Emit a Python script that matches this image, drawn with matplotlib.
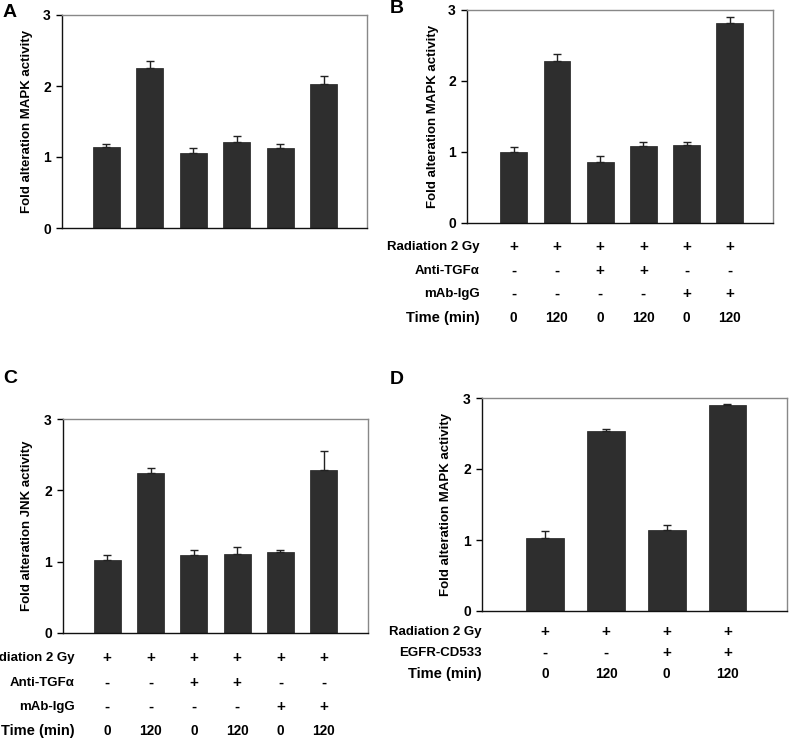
import matplotlib
matplotlib.use("Agg")
import matplotlib.pyplot as plt
from matplotlib.transforms import blended_transform_factory
import numpy as np

plt.rcParams['font.family'] = ['Liberation Sans', 'DejaVu Sans']
plt.rcParams['font.weight'] = 'bold'

# ---- data ----
a_values = [1.14, 2.26, 1.06, 1.21, 1.12, 2.03]
a_errors = [0.04, 0.09, 0.06, 0.09, 0.06, 0.11]
b_values = [1.00, 2.28, 0.86, 1.08, 1.09, 2.81]
b_errors = [0.07, 0.09, 0.08, 0.05, 0.05, 0.08]
c_values = [1.02, 2.24, 1.09, 1.11, 1.13, 2.29]
c_errors = [0.07, 0.08, 0.07, 0.09, 0.04, 0.26]
d_values = [1.03, 2.54, 1.14, 2.90]
d_errors = [0.09, 0.02, 0.07, 0.02]

radiation6 = ['+', '+', '+', '+', '+', '+']
anti_tgfa = ['-', '-', '+', '+', '-', '-']
mab_igg = ['-', '-', '-', '-', '+', '+']
time6 = ['0', '120', '0', '120', '0', '120']
radiation4 = ['+', '+', '+', '+']
egfr_cd533 = ['-', '-', '+', '+']
time4 = ['0', '120', '0', '120']

row_labels6 = ['Radiation 2 Gy', 'Anti-TGF\u03b1', 'mAb-IgG', 'Time (min)']
row_labels4 = ['Radiation 2 Gy', 'EGFR-CD533', 'Time (min)']
yticks = [0, 1, 2, 3]

W, H = 789, 740
fig = plt.figure(figsize=(W / 100, H / 100), dpi=100)

def ax_px(left, top, right, bottom):
    return fig.add_axes([left / W, 1 - bottom / H, (right - left) / W, (bottom - top) / H])

def fy(py):
    return 1 - py / H

def style(ax, vals, errs, ylabel, xlim, labx):
    x = np.arange(len(vals))
    ax.bar(x, vals, width=0.62, color='#2e2e2e', edgecolor='#1e1e1e', linewidth=0.5, zorder=2)
    ax.errorbar(x, vals, yerr=[np.zeros(len(vals)), errs], fmt='none', ecolor='#222222',
                elinewidth=1.0, capsize=3, capthick=1.0, zorder=3)
    ax.set_ylim(0, 3)
    ax.set_xlim(*xlim)
    ax.set_yticks(yticks)
    ax.set_yticklabels([str(t) for t in yticks], fontsize=10, fontweight='bold')
    ax.set_xticks([])
    ax.tick_params(axis='y', direction='out', length=4, width=1, pad=4)
    for s in ['top', 'right']:
        ax.spines[s].set_color('#888888')
        ax.spines[s].set_linewidth(1.0)
    for s in ['left', 'bottom']:
        ax.spines[s].set_color('#111111')
        ax.spines[s].set_linewidth(1.0)
    ax.set_ylabel(ylabel, fontsize=9.5, fontweight='bold')
    ax.yaxis.set_label_coords(labx, 0.5)

def table(ax, rows, labels, ys, label_x):
    tr = blended_transform_factory(ax.transData, fig.transFigure)
    n = len(rows)
    for r, (row, lab, y) in enumerate(zip(rows, labels, ys)):
        last = (r == n - 1)
        fig.text(label_x / W, fy(y), lab, ha='right', va='center',
                 fontsize=10.5 if last else 9.5, fontweight='bold')
        for i, s in enumerate(row):
            fs = 9.8 if last else 11
            ax.text(i, fy(y), s, transform=tr, ha='center', va='center', fontsize=fs, fontweight='bold')

axA = ax_px(62, 15, 367, 228)
style(axA, a_values, a_errors, 'Fold alteration MAPK activity', (-1.02, 6.0), -0.095)

axB = ax_px(467, 9.5, 773, 222.7)
style(axB, b_values, b_errors, 'Fold alteration MAPK activity', (-1.08, 6.0), -0.092)
table(axB, [radiation6, anti_tgfa, mab_igg, time6], row_labels6, [247, 271, 294, 318], 480)

axC = ax_px(63, 419, 368, 633)
style(axC, c_values, c_errors, 'Fold alteration JNK activity', (-1.02, 6.02), -0.098)
table(axC, [radiation6, anti_tgfa, mab_igg, time6], row_labels6, [658, 683, 707, 731], 75)

axD = ax_px(482, 398, 787, 611)
style(axD, d_values, d_errors, 'Fold alteration MAPK activity', (-1.04, 3.98), -0.097)
table(axD, [radiation4, egfr_cd533, time4], row_labels4, [632, 653, 674], 482)

for lab, px, py in [('A', 3, 4), ('B', 390, 0), ('C', 3, 370), ('D', 390, 371)]:
    fig.text(px / W, fy(py), lab, ha='left', va='top', fontsize=14, fontweight='bold')

fig.savefig('out.png', dpi=100)
